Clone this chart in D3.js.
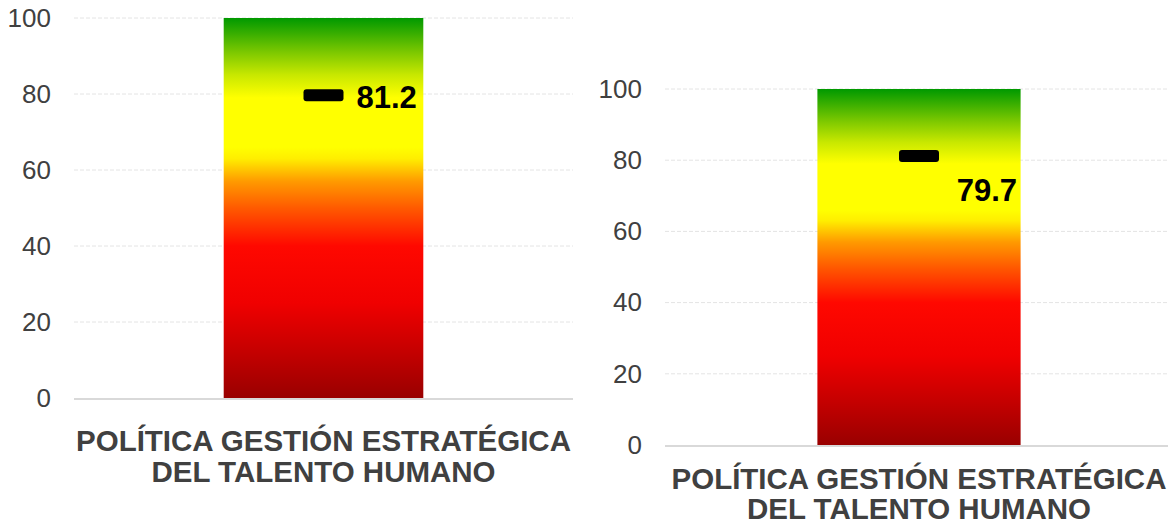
<!DOCTYPE html>
<html>
<head>
<meta charset="utf-8">
<script src="https://cdn.jsdelivr.net/npm/d3@7"></script>
<style>
  body { margin: 0; background: #fff; }
  svg { display: block; font-family: "Liberation Sans", Arial, sans-serif; }
</style>
</head>
<body>
<script>
// data
var categoryLines = ["POLÍTICA GESTIÓN ESTRATÉGICA", "DEL TALENTO HUMANO"]
var barValues = [100, 100]
var markerValues = [79.7, 81.2]
var labelValues = [81.2, 79.7]
var yTicks = [0, 20, 40, 60, 80, 100]

// colour stops for the bar, bottom (0) to top (100)
var gradStops = [
  [0, "#990000"], [12, "#c40000"], [25, "#f00000"], [40, "#ff0800"],
  [50, "#ff5a00"], [57, "#ff9a00"], [63, "#ffee00"], [66, "#ffff00"],
  [79, "#ffff00"], [85, "#c8e800"], [91, "#7cc800"], [100, "#009900"]
]

// panel placement
var panels = [
  {left: 74, right: 573, top: 18, bottom: 398, labelDx: 33, labelDy: 2, labelAnchor: "start", titleY: 451, lineGap: 31},
  {left: 665, right: 1173, top: 89, bottom: 445, labelDx: 98, labelDy: 34, labelAnchor: "end", titleY: 489, lineGap: 30}
]

var svg = d3.select("body")
  .append("svg")
  .attr("width", 1168)
  .attr("height", 525)

var defs = svg.append("defs")

var grad = defs.append("linearGradient")
  .attr("id", "barGrad")
  .attr("x1", 0).attr("y1", 1)
  .attr("x2", 0).attr("y2", 0)

grad.selectAll("stop")
  .data(gradStops)
  .enter()
  .append("stop")
    .attr("offset", function(d) { return d[0] + "%" })
    .attr("stop-color", function(d) { return d[1] })

panels.forEach(function(p, i) {
  var g = svg.append("g")

  var x = d3.scaleBand()
    .domain([categoryLines.join(" ")])
    .range([p.left, p.right])
    .paddingInner(0.6)
    .paddingOuter(0.3)

  var y = d3.scaleLinear()
    .domain([0, 100])
    .range([p.bottom, p.top])

  // gridlines
  g.selectAll(".grid")
    .data(yTicks.filter(function(t) { return t > 0 }))
    .enter()
    .append("line")
      .attr("x1", p.left)
      .attr("x2", p.right)
      .attr("y1", function(t) { return y(t) })
      .attr("y2", function(t) { return y(t) })
      .attr("stroke", "#e4e4e4")
      .attr("stroke-width", 1)
      .attr("stroke-dasharray", "4,2")

  // y axis labels
  var yAxis = d3.axisLeft(y).tickValues(yTicks).tickSize(0).tickPadding(23)
  var ya = g.append("g")
    .attr("transform", "translate(" + p.left + ",0)")
    .call(yAxis)
  ya.select(".domain").remove()
  ya.selectAll("text")
    .attr("font-size", 26)
    .attr("fill", "#404040")
    .attr("font-family", "Liberation Sans, Arial, sans-serif")

  // bar
  var cat = x.domain()[0]
  g.append("rect")
    .attr("x", x(cat))
    .attr("width", x.bandwidth())
    .attr("y", y(barValues[i]))
    .attr("height", y(0) - y(barValues[i]))
    .attr("fill", "url(#barGrad)")

  // baseline
  g.append("line")
    .attr("x1", p.left)
    .attr("x2", p.right)
    .attr("y1", y(0) + 1)
    .attr("y2", y(0) + 1)
    .attr("stroke", "#d9d9d9")
    .attr("stroke-width", 2)

  // marker
  var cx = x(cat) + x.bandwidth() / 2
  g.append("rect")
    .attr("x", cx - 20)
    .attr("y", y(markerValues[i]) - 6)
    .attr("width", 40)
    .attr("height", 12)
    .attr("rx", 3)
    .attr("fill", "#000")

  // value label
  g.append("text")
    .attr("x", cx + p.labelDx)
    .attr("y", y(markerValues[i]) + p.labelDy)
    .attr("dy", "0.35em")
    .attr("text-anchor", p.labelAnchor)
    .attr("font-size", 31)
    .attr("font-weight", "bold")
    .attr("fill", "#000")
    .text(labelValues[i])

  // category label
  g.selectAll(".cat")
    .data(categoryLines)
    .enter()
    .append("text")
      .attr("x", cx)
      .attr("y", function(d, j) { return p.titleY + j * p.lineGap })
      .attr("text-anchor", "middle")
      .attr("font-size", 29.5)
      .attr("font-weight", "bold")
      .attr("fill", "#404040")
      .text(function(d) { return d })
})
</script>
</body>
</html>
